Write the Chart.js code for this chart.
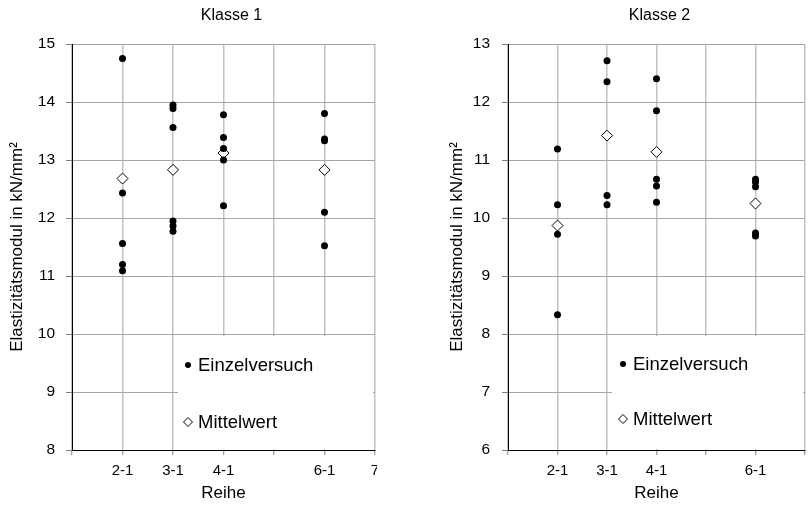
<!DOCTYPE html>
<html><head><meta charset="utf-8">
<script src="https://cdn.jsdelivr.net/npm/chart.js@4"></script>
<style>
html,body{margin:0;padding:0;background:#fff;width:812px;height:505px;overflow:hidden}
#w1{position:absolute;left:0;top:0;width:377px;height:505px;overflow:hidden}
#w2{position:absolute;left:400px;top:0;width:412px;height:505px;overflow:hidden}
</style></head><body>
<div id="w1"><canvas id="c1" width="400" height="505"></canvas></div>
<div id="w2"><canvas id="c2" width="412" height="505"></canvas></div>
<script>
// ---- data ----
const reihen = ['2-1', '3-1', '4-1', '6-1'];
const xTickLabels1 = ['', '2-1', '3-1', '4-1', '', '6-1', '7'];
const xTickLabels2 = ['', '2-1', '3-1', '4-1', '', '6-1', ''];
const titles = ['Klasse 1', 'Klasse 2'];
const yTitle = 'Elastizitätsmodul in kN/mm²';
const xTitle = 'Reihe';
const legendLabels = ['Einzelversuch', 'Mittelwert'];

// Klasse 1 - Einzelversuche je Reihe
const k1_21 = [14.75, 12.43, 11.56, 11.20, 11.09];
const k1_31 = [13.95, 13.89, 13.56, 11.95, 11.86, 11.77];
const k1_41 = [13.78, 13.39, 13.20, 13.00, 12.21];
const k1_61 = [13.80, 13.36, 13.33, 12.10, 11.52];
const k1Mittel = [12.68, 12.83, 13.12, 12.83];

// Klasse 2 - Einzelversuche je Reihe
const k2_21 = [11.19, 10.23, 9.72, 8.33];
const k2_31 = [12.71, 12.35, 10.39, 10.23];
const k2_41 = [12.40, 11.85, 10.67, 10.55, 10.27];
const k2_61 = [10.67, 10.62, 10.54, 9.74, 9.69];
const k2Mittel = [9.87, 11.42, 11.14, 10.25];

const yRange1 = [8, 15];
const yRange2 = [6, 13];

// ---- helpers ----
function einzelPoints(labels, groups) {
  const pts = [];
  groups.forEach((g, i) => {
    const x = labels.indexOf(reihen[i]) + 1;
    g.forEach(v => pts.push({x: x, y: v}));
  });
  return pts;
}
function mittelPoints(labels, means) {
  return means.map((v, i) => ({x: labels.indexOf(reihen[i]) + 1, y: v}));
}

const FONT = "'Liberation Sans', Arial, sans-serif";

const deco = {
  id: 'deco',
  beforeDatasetsDraw(chart, args, o) {
    const a = chart.chartArea, ctx = chart.ctx;
    ctx.save();
    ctx.fillStyle = '#fff';
    const left = a.left + o.boxDx, top = a.top + o.boxDy;
    ctx.fillRect(left, top, a.right - 2 - left, a.bottom - 1 - top);
    ctx.restore();
  },
  afterDraw(chart, args, o) {
    const a = chart.chartArea, ctx = chart.ctx;
    ctx.save();
    // title
    ctx.fillStyle = '#000';
    ctx.font = "16px 'Liberation Sans Narrow', 'Arial Narrow', " + FONT;
    ctx.textAlign = 'center';
    ctx.textBaseline = 'middle';
    ctx.fillText(o.title, (a.left + a.right) / 2 + o.titleDx, 16);
    // legend
    ctx.font = '18.5px ' + FONT;
    ctx.textAlign = 'left';
    const mx = a.left + o.legDx, y1 = a.top + o.leg1Dy, y2 = a.top + o.leg2Dy;
    ctx.beginPath();
    ctx.arc(mx, y1, 3, 0, Math.PI * 2);
    ctx.fillStyle = '#000';
    ctx.fill();
    ctx.beginPath();
    ctx.moveTo(mx, y2 - 4.5); ctx.lineTo(mx + 4.5, y2); ctx.lineTo(mx, y2 + 4.5); ctx.lineTo(mx - 4.5, y2); ctx.closePath();
    ctx.fillStyle = '#fff'; ctx.fill();
    ctx.strokeStyle = '#000'; ctx.lineWidth = 1; ctx.stroke();
    ctx.fillStyle = '#000';
    ctx.fillText(legendLabels[0], mx + 10, y1 + 1);
    ctx.fillText(legendLabels[1], mx + 10, y2 + 1);
    ctx.restore();
  }
};

function makeChart(id, labels, groups, means, yRange, yAxisWidth, padLeft, tickPad, decoOpts) {
  return new Chart(document.getElementById(id), {
    type: 'scatter',
    data: {
      datasets: [
        {
          label: legendLabels[0],
          data: einzelPoints(labels, groups),
          pointStyle: 'circle',
          pointRadius: 3.5,
          pointBackgroundColor: '#000',
          pointBorderColor: '#000',
          pointBorderWidth: 0
        },
        {
          label: legendLabels[1],
          data: mittelPoints(labels, means),
          pointStyle: 'rectRot',
          pointRadius: 5.5,
          pointBackgroundColor: '#fff',
          pointBorderColor: '#000',
          pointBorderWidth: 1
        }
      ]
    },
    options: {
      responsive: false,
      animation: false,
      events: [],
      layout: {padding: {top: 44, left: padLeft, right: decoOpts.padRight, bottom: 0}},
      plugins: {
        legend: {display: false},
        tooltip: {enabled: false},
        deco: decoOpts
      },
      scales: {
        x: {
          type: 'linear',
          min: 1, max: labels.length,
          afterBuildTicks: s => { s.ticks = labels.map((l, i) => ({value: i + 1})); },
          afterFit: s => { s.height = 55; },
          ticks: {
            autoSkip: false,
            maxRotation: 0,
            padding: 7,
            color: '#000',
            font: {family: FONT, size: 15},
            callback: (v) => labels[Math.round(v) - 1]
          },
          grid: {color: '#c2c2c2', lineWidth: 1.5, tickColor: '#808080', tickLength: 5, tickWidth: 1},
          border: {color: '#000', width: 1},
          title: {display: true, text: xTitle, color: '#000', font: {family: FONT, size: 17}, padding: {top: 0, bottom: 1}}
        },
        y: {
          type: 'linear',
          min: yRange[0], max: yRange[1],
          afterFit: s => { s.width = yAxisWidth; },
          ticks: {stepSize: 1, padding: tickPad, color: '#000', font: {family: FONT, size: 15.5}},
          grid: {color: '#a6a6a6', lineWidth: 1, tickColor: '#808080', tickLength: 6},
          border: {color: '#000', width: 1},
          title: {display: true, text: yTitle, color: '#000', font: {family: FONT, size: 17}, padding: {top: 7, bottom: 0}}
        }
      }
    },
    plugins: [deco]
  });
}

makeChart('c1', xTickLabels1, [k1_21, k1_31, k1_41, k1_61], k1Mittel, yRange1, 72, 0, 11,
  {title: titles[0], titleDx: 8, padRight: 25, boxDx: 106, boxDy: 292, legDx: 116, leg1Dy: 321, leg2Dy: 378});
makeChart('c2', xTickLabels2, [k2_21, k2_31, k2_41, k2_61], k2Mittel, yRange2, 68, 40, 12,
  {title: titles[1], titleDx: 3, padRight: 1, boxDx: 104, boxDy: 292, legDx: 115, leg1Dy: 320, leg2Dy: 375});
</script>
</body></html>
